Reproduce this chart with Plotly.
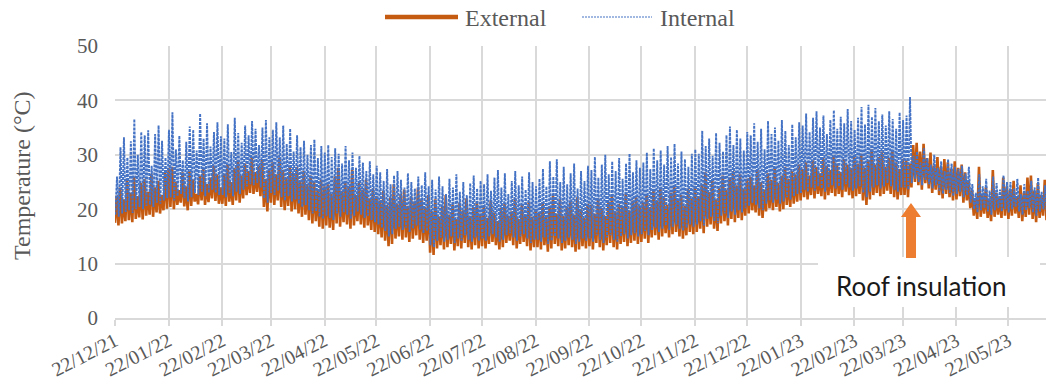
import pandas as pd
import plotly.graph_objects as go

# Two-day cycles: one overnight low and one daytime high per cycle (°C)
ext_lo = [
    17.5, 17.0, 17.4, 17.8, 18.0, 17.6, 18.2, 18.5, 18.1, 18.8, 19.0, 18.6, 19.4, 19.2, 19.8, 20.1,  # Dec-Jan 22
    20.4, 20.0, 20.8, 21.2, 20.5, 19.8, 20.6, 21.4, 20.9, 21.6, 20.8, 21.3, 22.0, 21.5, 21.0,        # Jan-Feb
    21.0, 20.6, 21.4, 20.8, 21.6, 21.2, 22.0, 22.6, 23.0, 22.8, 23.2, 22.4, 20.4, 19.6,              # Feb-Mar
    21.2, 20.8, 21.6, 20.4, 19.8, 20.6, 19.6, 20.0, 19.2, 18.6, 19.0, 18.0, 17.4, 17.8, 16.8, 16.4,  # Mar-Apr
    17.0, 16.6, 16.2, 17.4, 16.8, 17.6, 17.2, 16.4, 17.0, 17.8, 17.2, 16.6, 17.0, 16.2, 15.8,        # Apr-May
    15.4, 14.8, 14.2, 13.2, 13.6, 14.6, 15.0, 14.4, 14.8, 14.0, 14.6, 15.2, 14.4, 13.8, 14.2,        # May-Jun
    12.0, 11.6, 12.8, 13.4, 12.6, 13.0, 13.6, 12.4, 13.2, 12.8, 13.8, 13.0, 12.6, 13.4, 12.8,        # Jun-Jul
    13.2, 12.8, 13.6, 14.0, 13.4, 12.6, 13.0, 13.8, 14.2, 13.4, 12.8, 13.6, 14.0, 13.2, 12.4, 13.0,  # Jul-Aug
    13.0, 12.6, 13.4, 12.2, 12.8, 13.6, 13.2, 12.4, 12.8, 13.4, 13.0, 12.2, 12.6, 13.2, 12.8,        # Aug-Sep
    13.2, 12.6, 13.8, 13.0, 12.4, 13.4, 13.8, 13.0, 12.6, 13.6, 14.0, 13.2, 13.8, 14.2, 13.6,        # Sep-Oct
    14.0, 14.6, 13.8, 14.8, 15.2, 14.4, 15.0, 15.6, 14.8, 15.4, 15.8, 15.0, 14.6, 15.2, 15.8, 15.4,  # Oct-Nov
    15.8, 16.4, 15.6, 16.8, 17.2, 16.4, 16.0, 17.4, 17.8, 17.0, 18.2, 17.6, 18.4, 18.0, 18.8,        # Nov-Dec
    19.2, 19.8, 19.4, 18.8, 18.4, 19.6, 20.2, 19.8, 20.4, 19.6, 20.0, 20.8, 20.4, 21.0, 21.4,        # Dec-Jan 23
    21.6, 22.2, 21.8, 22.6, 22.0, 22.8, 22.4, 21.8, 22.6, 23.0, 22.4, 22.8, 22.2, 23.2, 22.6, 22.0,  # Jan-Feb
    22.4, 22.8, 21.6, 20.8, 21.8, 22.6, 23.0, 22.4, 22.8, 23.4, 22.8, 22.2, 21.8, 22.6,              # Feb-Mar
    22.6, 22.2, 24.0, 25.0, 24.4, 23.6, 24.8, 23.8, 23.0, 23.6, 22.6, 22.0, 22.8, 22.2, 21.6,        # Mar-Apr
    21.8, 22.4, 21.2, 21.6, 20.2, 18.8, 18.2, 18.6, 19.2, 18.4, 17.8, 18.6, 19.0, 18.4, 18.8,        # Apr-May
    18.2, 18.8, 19.2, 18.4, 17.8, 18.6, 19.0, 18.2, 17.6, 18.4, 18.8, 18.0,                          # May-Jun
]
ext_hi = [
    22.5, 24.0, 21.8, 25.5, 23.0, 26.0, 22.4, 24.8, 25.6, 23.2, 26.5, 24.0, 25.2, 22.6, 26.8, 27.5,
    27.8, 25.0, 23.5, 26.8, 24.2, 27.0, 25.5, 22.8, 26.2, 27.4, 24.6, 25.8, 28.0, 26.4, 24.0,
    26.5, 28.2, 25.0, 27.6, 29.0, 26.2, 28.4, 27.0, 29.6, 26.8, 28.0, 29.2, 25.6, 27.2,
    28.6, 26.4, 29.4, 27.2, 25.8, 28.0, 26.6, 27.8, 25.2, 27.0, 24.6, 26.2, 25.0, 23.6, 25.4, 24.2,
    24.6, 22.8, 26.0, 27.6, 23.4, 25.0, 24.2, 27.2, 22.6, 24.8, 23.6, 25.4, 22.0, 23.8, 22.4,
    21.6, 23.4, 20.8, 22.2, 24.6, 21.0, 22.8, 23.6, 20.6, 22.4, 21.4, 24.0, 21.8, 20.4, 22.6,
    19.6, 21.8, 18.6, 20.4, 22.6, 19.0, 20.8, 18.2, 21.2, 19.8, 22.0, 18.8, 20.2, 21.4, 19.2,
    20.6, 18.4, 21.6, 19.4, 17.8, 20.2, 21.0, 18.8, 19.6, 22.0, 18.2, 20.8, 19.0, 21.4, 18.6, 20.0,
    19.4, 21.2, 18.6, 20.6, 22.4, 19.2, 21.8, 18.8, 20.4, 21.6, 19.0, 22.2, 20.0, 18.4, 21.0,
    20.8, 19.2, 22.0, 20.2, 18.8, 21.4, 22.6, 19.6, 21.0, 20.4, 22.8, 19.8, 21.6, 22.2, 20.6,
    21.2, 22.8, 20.4, 23.4, 21.6, 24.0, 22.2, 20.8, 23.0, 24.4, 21.8, 22.6, 20.6, 23.8, 22.0, 24.2,
    22.4, 24.6, 26.8, 23.2, 25.4, 21.8, 24.0, 26.2, 23.6, 25.8, 27.0, 24.4, 26.4, 23.8, 25.6,
    26.0, 24.4, 27.2, 25.0, 23.6, 26.6, 25.4, 27.6, 24.8, 26.2, 27.8, 25.6, 27.0, 26.4, 28.2,
    27.4, 28.6, 26.2, 29.0, 27.8, 26.6, 29.4, 28.0, 27.2, 29.8, 28.4, 26.8, 29.2, 28.2, 27.6, 29.6,
    28.4, 30.2, 27.6, 29.0, 31.0, 28.2, 29.6, 30.6, 27.8, 29.4, 30.8, 28.6, 27.4, 29.2,
    29.0, 28.4, 31.8, 32.2, 30.6, 32.0, 29.4, 30.4, 28.0, 29.6, 27.8, 29.2, 28.6, 27.4, 28.8,
    27.6, 28.2, 26.8, 25.2, 23.4, 22.0, 27.8, 22.6, 24.0, 21.8, 27.2, 23.0, 22.4, 25.8, 24.2,
    23.6, 25.2, 22.4, 24.4, 23.0, 25.8, 26.2, 23.4, 24.8, 22.6, 25.4, 24.0,
]
int_lo = [
    19.0, 18.6, 19.2, 19.5, 19.8, 19.3, 20.0, 20.4, 20.0, 20.6, 20.8, 20.4, 21.2, 21.0, 21.6, 22.0,
    22.2, 21.6, 22.4, 22.8, 22.0, 21.4, 22.2, 23.0, 22.6, 23.2, 22.4, 23.0, 23.6, 23.0, 22.6,
    22.6, 22.2, 23.0, 22.4, 23.2, 22.8, 23.6, 24.2, 24.6, 24.4, 24.8, 24.0, 22.0, 21.2,
    23.0, 22.6, 23.4, 22.2, 21.6, 22.4, 21.4, 21.8, 21.0, 20.4, 20.8, 19.8, 19.2, 19.6, 18.6, 18.2,
    18.8, 18.4, 18.0, 19.2, 18.6, 19.4, 19.0, 18.2, 18.8, 19.6, 19.0, 18.4, 18.8, 18.0, 17.6,
    17.2, 16.6, 16.0, 15.0, 15.4, 16.4, 16.8, 16.2, 16.6, 15.8, 16.4, 17.0, 16.2, 15.6, 16.0,
    13.4, 13.0, 14.2, 14.8, 14.0, 14.4, 15.0, 13.8, 14.6, 14.2, 15.2, 14.4, 14.0, 14.8, 14.2,
    14.6, 14.2, 15.0, 15.4, 14.8, 14.0, 14.4, 15.2, 15.6, 14.8, 14.2, 15.0, 15.4, 14.6, 13.8, 14.4,
    14.4, 14.0, 14.8, 13.6, 14.2, 15.0, 14.6, 13.8, 14.2, 14.8, 14.4, 13.6, 14.0, 14.6, 14.2,
    14.6, 14.0, 15.2, 14.4, 13.8, 14.8, 15.2, 14.4, 14.0, 15.0, 15.4, 14.6, 15.2, 15.6, 15.0,
    15.4, 16.0, 15.2, 16.2, 16.6, 15.8, 16.4, 17.0, 16.2, 16.8, 17.2, 16.4, 16.0, 16.6, 17.2, 16.8,
    17.2, 17.8, 17.0, 18.2, 18.6, 17.8, 17.4, 18.8, 19.2, 18.4, 19.6, 19.0, 19.8, 19.4, 20.2,
    20.6, 21.2, 20.8, 20.2, 19.8, 21.0, 21.6, 21.2, 21.8, 21.0, 21.4, 22.2, 21.8, 22.4, 22.8,
    23.0, 23.6, 23.2, 24.0, 23.4, 24.2, 23.8, 23.2, 24.0, 24.4, 23.8, 24.2, 23.6, 24.6, 24.0, 23.4,
    23.8, 24.2, 23.0, 22.2, 23.2, 24.0, 24.4, 23.8, 24.2, 24.8, 24.2, 23.6, 23.2, 24.0,
    24.0, 23.6, 24.8, 25.6, 25.0, 24.4, 25.4, 24.6, 23.8, 24.4, 23.4, 22.8, 23.6, 23.0, 22.4,
    22.8, 23.2, 22.2, 22.6, 21.2, 20.0, 19.4, 19.8, 20.2, 19.6, 19.0, 19.8, 20.2, 19.6, 20.0,
    19.4, 20.0, 20.4, 19.6, 19.0, 19.8, 20.2, 19.4, 18.8, 19.6, 20.0, 19.2,
]
int_hi = [
    26.0, 31.4, 33.2, 29.5, 32.5, 36.6, 30.0, 34.2, 33.6, 34.5, 28.0, 33.8, 35.4, 32.6, 29.5, 34.6,
    37.8, 31.0, 33.5, 29.0, 32.4, 35.2, 34.6, 30.8, 37.6, 33.0, 35.8, 31.5, 34.2, 36.0, 33.4,
    33.0, 35.6, 30.5, 36.8, 34.0, 32.2, 35.4, 33.6, 36.2, 34.8, 31.8, 35.0, 36.4, 33.2,
    34.6, 36.0, 33.2, 35.4, 32.0, 34.8, 30.6, 33.6, 31.4, 32.6, 30.0, 31.8, 32.8, 29.4, 31.6, 30.4,
    31.8, 29.6, 31.2, 30.2, 28.4, 31.6, 29.0, 30.4, 27.6, 29.8, 28.6, 27.0, 28.8, 26.4, 28.0,
    26.8, 25.2, 27.4, 24.6, 26.2, 27.0, 25.4, 24.0, 26.6, 25.0, 23.8, 26.0, 24.4, 26.8, 24.2,
    25.4, 23.6, 26.0, 24.2, 22.8, 25.6, 24.0, 26.4, 23.2, 25.0, 22.6, 24.8, 26.2, 23.8, 25.2,
    24.6, 26.4, 23.4, 25.8, 27.2, 24.0, 26.6, 22.8, 25.2, 27.0, 24.4, 26.0, 23.6, 26.8, 25.0, 24.2,
    25.6, 27.4, 24.2, 28.8, 26.0, 29.2, 25.0, 27.8, 24.6, 26.6, 28.4, 23.8, 27.0, 25.2, 28.0,
    27.2, 29.6, 25.8, 28.2, 30.0, 26.4, 28.8, 27.0, 29.4, 25.6, 28.4, 30.2, 26.8, 29.0, 27.6,
    28.6, 30.4, 27.4, 31.2, 29.0, 30.8, 28.2, 31.6, 29.6, 32.0, 28.4, 30.6, 29.2, 27.8, 30.2, 31.0,
    30.2, 34.4, 31.6, 33.0, 29.8, 34.0, 32.2, 30.6, 33.6, 35.2, 31.8, 34.6, 33.0, 30.8, 34.2,
    33.6, 35.8, 32.4, 34.8, 31.0, 36.2, 33.8, 35.0, 32.6, 36.4, 34.4, 31.8, 35.6, 33.2, 36.0,
    35.4, 37.6, 34.2, 36.8, 38.0, 35.0, 37.2, 33.8, 36.4, 38.2, 34.8, 37.0, 35.8, 38.4, 36.2, 34.6,
    36.8, 38.8, 35.6, 39.2, 37.0, 38.6, 36.2, 37.4, 35.4, 38.0, 36.6, 34.8, 37.8, 36.4,
    37.2, 40.6, 29.8, 30.6, 28.6, 31.2, 29.4, 28.2, 30.0, 27.6, 28.8, 27.0, 29.2, 28.4, 27.8,
    27.4, 28.0, 26.6, 27.8, 24.6, 23.0, 26.4, 24.2, 25.6, 23.4, 26.0, 24.8, 23.6, 26.2, 25.0,
    25.0, 23.8, 25.6, 22.8, 24.6, 23.4, 25.2, 24.0, 25.8, 23.2, 24.4, 25.4,
]

tick_labels = ["22/12/21", "22/01/22", "22/02/22", "22/03/22", "22/04/22", "22/05/22",
               "22/06/22", "22/07/22", "22/08/22", "22/09/22", "22/10/22", "22/11/22",
               "22/12/22", "22/01/23", "22/02/23", "22/03/23", "22/04/23", "22/05/23"]

series_names = ["External", "Internal"]
note_text = "Roof insulation"
start_date = "2021-12-22"
end_date = "2023-06-12 17:00"

lens = {len(ext_lo), len(ext_hi), len(int_lo), len(int_hi)}
assert len(lens) == 1, (len(ext_lo), len(ext_hi), len(int_lo), len(int_hi))


def interleave(lo, hi):
    out = []
    for a, b in zip(lo, hi):
        out.extend([a, b])
    return out


ext_vals = interleave(ext_lo, ext_hi)
int_vals = interleave(int_lo, int_hi)
days = pd.date_range(start_date, periods=len(ext_vals), freq="D")
int_days = days + pd.Timedelta(hours=4)
tick_dates = [pd.to_datetime(t, format="%d/%m/%y") for t in tick_labels]

ORANGE = "#C55A11"
BLUE = "#4472C4"
GRID = "#d9d9d9"
TXT = "#595959"
SERIF = "Liberation Serif, Times New Roman, serif"

W, H = 1046, 385
L, R, T, B = 115, 0, 46, 67
PW, PH = W - L - R, H - T - B


def px(x):
    return (x - L) / PW


def py(y):
    return (H - B - y) / PH


fig = go.Figure()
fig.add_trace(go.Scatter(x=days, y=ext_vals, mode="lines", name=series_names[0],
                         line=dict(color=ORANGE, width=2.6), showlegend=False))
fig.add_trace(go.Scatter(x=int_days, y=int_vals, mode="lines", name=series_names[1],
                         line=dict(color=BLUE, width=1.9, dash="3px,1px"), showlegend=False))

shapes = []
annotations = []

# legend row
shapes.append(dict(type="line", xref="paper", yref="paper", x0=px(385), x1=px(458),
                   y0=py(17), y1=py(17), line=dict(color=ORANGE, width=4.5)))
annotations.append(dict(xref="paper", yref="paper", x=px(463), y=py(18), text=series_names[0],
                        showarrow=False, xanchor="left", yanchor="middle",
                        font=dict(family=SERIF, size=24, color=TXT)))
shapes.append(dict(type="line", xref="paper", yref="paper", x0=px(582), x1=px(652),
                   y0=py(17), y1=py(17), line=dict(color=BLUE, width=1.2, dash="2px,1px")))
annotations.append(dict(xref="paper", yref="paper", x=px(658), y=py(18), text=series_names[1],
                        showarrow=False, xanchor="left", yanchor="middle",
                        font=dict(family=SERIF, size=24, color=TXT)))

# y-axis title
annotations.append(dict(xref="paper", yref="paper", x=px(22), y=py(176), text="Temperature (°C)",
                        textangle=-90, showarrow=False, xanchor="center", yanchor="middle",
                        font=dict(family=SERIF, size=24, color=TXT)))

# note box with arrow
shapes.append(dict(type="rect", xref="paper", yref="paper", x0=px(818), x1=px(1040),
                   y0=py(307), y1=py(257), fillcolor="white", line=dict(width=0), layer="above"))
arrow_pts = [(911, 203), (921, 217), (916, 217), (916, 258), (906, 258), (906, 217), (901, 217)]
path = "M " + " L ".join(f"{px(a):.5f},{py(b):.5f}" for a, b in arrow_pts) + " Z"
shapes.append(dict(type="path", xref="paper", yref="paper", path=path,
                   fillcolor="#ED7D31", line=dict(width=0), layer="above"))
annotations.append(dict(xref="paper", yref="paper", x=px(921), y=py(286), text=note_text,
                        showarrow=False, xanchor="center", yanchor="middle",
                        font=dict(family="Lato, sans-serif", size=26, color="#1a1a1a")))

fig.update_layout(
    width=W, height=H,
    margin=dict(l=L, r=R, t=T, b=B, autoexpand=False),
    paper_bgcolor="white", plot_bgcolor="white",
    shapes=shapes, annotations=annotations,
    showlegend=False,
)
fig.update_xaxes(type="date", range=[start_date, end_date],
                 tickvals=tick_dates, ticktext=tick_labels, tickangle=-27,
                 tickfont=dict(family=SERIF, size=20, color=TXT),
                 showgrid=True, gridcolor=GRID, gridwidth=1.6,
                 ticks="outside", ticklen=6, tickwidth=1.6, tickcolor=GRID,
                 ticklabelstandoff=-4,
                 showline=True, linecolor=GRID, linewidth=1.6, zeroline=False,
                 automargin=False)
fig.update_yaxes(range=[0, 50], tickvals=[0, 10, 20, 30, 40, 50],
                 tickfont=dict(family=SERIF, size=21, color=TXT),
                 showgrid=True, gridcolor=GRID, gridwidth=1.6, zeroline=False,
                 ticks="", ticklabelstandoff=16, automargin=False)

fig.write_html("out.html")
